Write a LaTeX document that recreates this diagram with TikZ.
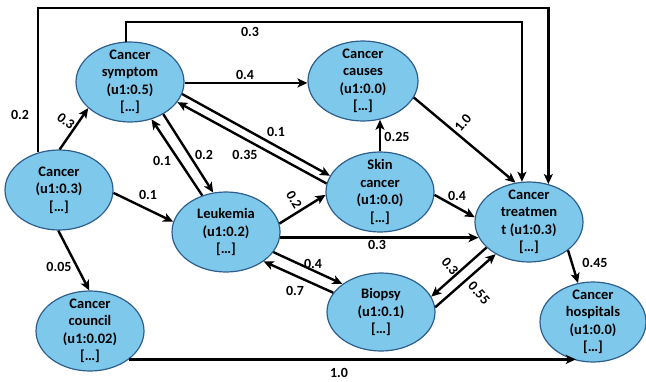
\documentclass[tikz,border=0pt]{standalone}
\usepackage{fontspec}
\setmainfont{Carlito}
\usetikzlibrary{shapes.geometric,arrows.meta}
\definecolor{nodefill}{RGB}{126,200,235}
\definecolor{nodeborder}{RGB}{46,94,140}
\tikzset{
  ell/.style={ellipse,draw=nodeborder,fill=nodefill,line width=1.2pt,minimum width=108pt,minimum height=80pt,inner sep=0pt},
  txt/.style={align=center,inner sep=0pt,font=\fontsize{14.5}{17.5}\selectfont\bfseries},
  arr/.style={-{Stealth[length=10pt,width=9pt,inset=2.5pt]},line width=2.4pt},
  lbl/.style={font=\fontsize{14}{16}\selectfont\bfseries,inner sep=1pt}
}
\begin{document}
\begin{tikzpicture}[x=1pt,y=-1pt]
\useasboundingbox (0,0) rectangle (646,381);
% nodes
\node[ell] (S) at (130,82) {};
\node[txt] (St) at (S) {Cancer\\symptom\\(u1:0.5)\\{[…]}};
\node[ell,minimum width=110pt] (Ca) at (363,81) {};
\node[txt] (Cat) at (Ca) {Cancer\\causes\\(u1:0.0)\\{[…]}};
\node[ell] (C0) at (59,190) {};
\node[txt] (C0t) at (C0) {Cancer\\(u1:0.3)\\{[…]}};
\node[ell] (L) at (226,232) {};
\node[txt] (Lt) at (L) {Leukemia\\(u1:0.2)\\{[…]}};
\node[ell] (Co) at (90,331) {};
\node[txt] (Cot) at (Co) {Cancer\\council\\(u1:0.02)\\{[…]}};
\node[ell] (Sk) at (380,192) {};
\node[txt] (Skt) at (Sk) {Skin\\cancer\\(u1:0.0)\\{[…]}};
\node[ell] (T) at (529,222) {};
\node[txt] (Tt) at (T) {Cancer\\treatmen\\t (u1:0.3)\\{[…]}};
\node[ell,minimum height=78pt] (B) at (381,312) {};
\node[txt] (Bt) at (B) {Biopsy\\(u1:0.1)\\{[…]}};
\node[ell,minimum width=106pt] (H) at (593,322) {};
\node[txt] (Ht) at (H) {Cancer\\hospitals\\(u1:0.0)\\{[…]}};
% helper coordinates for routed connectors
\coordinate (tl) at (300,8);
\coordinate (tm) at (300,22);
% connectors
\draw[arr] (C0.89) -- (S.212);
\draw[arr] (C0.119) |- (tl) -| (T.63);
\draw[arr] (S.96) |- (tm) -| (T.100);
\draw[arr] (S.-1) -- (S.-1 -| Ca.west);
\draw[arr] (S.-44) -- (L.108);
\draw[arr] (L.123) -- (S.-60);
\draw[arr] (S.-13) -- (Sk.162);
\draw[arr] (Sk.171) -- (S.-23);
\draw[arr] (C0.-3) -- (L.169);
\draw[arr] (C0.269) -- (Co.91);
\draw[arr] (L.9) -- (Sk.183);
\draw[arr] (L.-6) -- (L.-6 -| T.197);
\draw[arr] (L.-23) -- (B.144);
\draw[arr] (B.158) -- (L.-38);
\draw[arr] (Sk.north) -- (Sk.north |- Ca.-67);
\draw[arr] (Ca.-18) -- (T.109);
\draw[arr] (Sk.-3) -- (T.175);
\draw[arr] (T.211) -- (B.17);
\draw[arr] (B.5) -- (T.224);
\draw[arr] (T.-36) -- (H.111);
\draw[arr] (Co.-36) -- (Co.-36 -| H.246);
% labels
\node[lbl,rotate=-38] (l1) at (66,121) {0.3};
\node[lbl] (l2) at (20,115) {0.2};
\node[lbl] (l3) at (250,32) {0.3};
\node[lbl] (l4) at (245,75) {0.4};
\node[lbl] (l5) at (162,161) {0.1};
\node[lbl] (l6) at (204,155) {0.2};
\node[lbl] (l7) at (276,132) {0.1};
\node[lbl] (l8) at (245,155) {0.35};
\node[lbl] (l9) at (148,195) {0.1};
\node[lbl] (l10) at (59,267) {0.05};
\node[lbl,rotate=-60] (l11) at (294,200) {0.2};
\node[lbl] (l12) at (377,245) {0.3};
\node[lbl] (l13) at (313,264) {0.4};
\node[lbl] (l14) at (295,291) {0.7};
\node[lbl] (l15) at (397,137) {0.25};
\node[lbl,rotate=50] (l16) at (463,123) {1.0};
\node[lbl] (l17) at (457,196) {0.4};
\node[lbl,rotate=-50] (l18) at (450,266) {0.3};
\node[lbl,rotate=-48] (l19) at (479,293) {0.55};
\node[lbl] (l20) at (595,263) {0.45};
\node[lbl] (l21) at (339,373) {1.0};
\end{tikzpicture}
\end{document}
